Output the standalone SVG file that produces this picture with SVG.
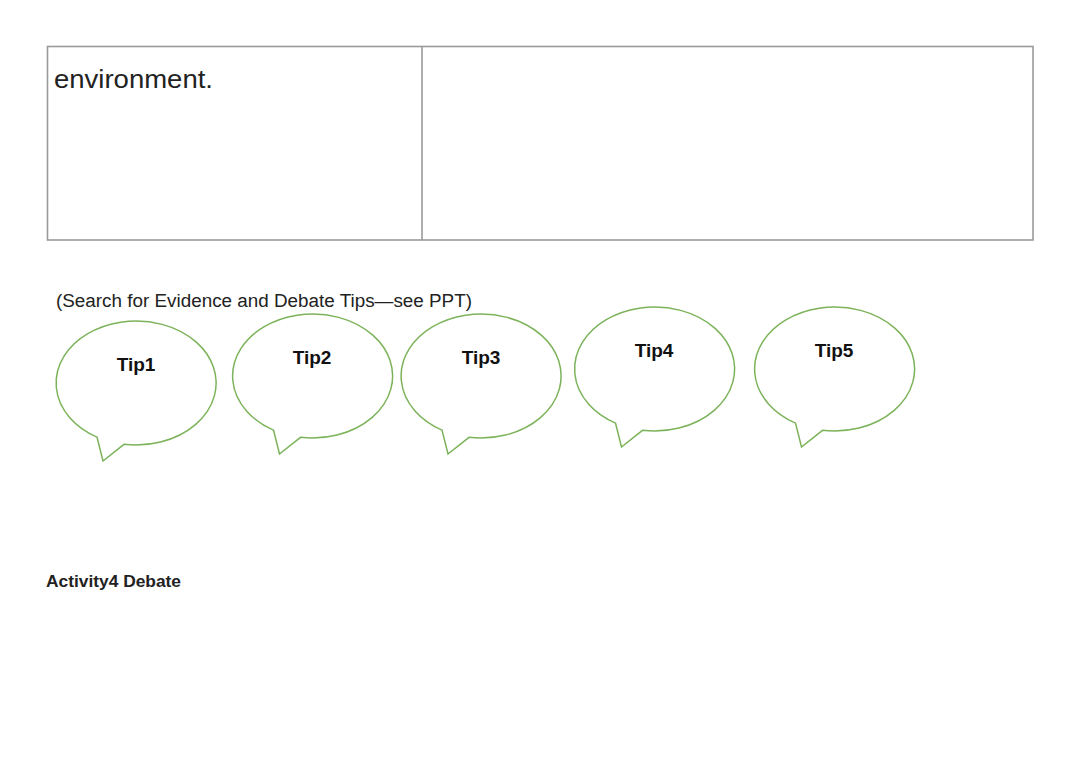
<svg xmlns="http://www.w3.org/2000/svg" xmlns:xlink="http://www.w3.org/1999/xlink" width="1080" height="764" viewBox="0 0 1080 764">
<style>
.tbl{fill:none;stroke:#9a9a9a;stroke-width:1.6}
.bub{fill:#fff;stroke:#7cb35a;stroke-width:1.5;stroke-linejoin:miter}
.tip{font-family:"Liberation Sans",Arial,sans-serif;font-weight:bold;font-size:19px;fill:#111;text-anchor:middle}
.body{font-family:"Liberation Sans",Arial,sans-serif;fill:#222}
</style>
<defs>
<path id="bubble" d="M -39,54.1 A 80 62 0 1 1 -12,61.3 L -33,78 Z"/>
</defs>
<rect width="1080" height="764" fill="#fff"/>
<g id="table">
<rect class="tbl" x="47.5" y="46.5" width="985.5" height="193.5"/>
<line class="tbl" x1="422" y1="46.5" x2="422" y2="240"/>
<text class="body" x="54" y="88" font-size="25" textLength="159" lengthAdjust="spacingAndGlyphs">environment.</text>
</g>
<text id="caption" class="body" x="56" y="307" font-size="18" textLength="416" lengthAdjust="spacingAndGlyphs">(Search for Evidence and Debate Tips—see PPT)</text>
<g id="tip1"><use xlink:href="#bubble" class="bub" transform="translate(136,383)"/><text class="tip" x="136" y="371">Tip1</text></g>
<g id="tip2"><use xlink:href="#bubble" class="bub" transform="translate(312.5,376)"/><text class="tip" x="312" y="364">Tip2</text></g>
<g id="tip3"><use xlink:href="#bubble" class="bub" transform="translate(481,376)"/><text class="tip" x="481" y="364">Tip3</text></g>
<g id="tip4"><use xlink:href="#bubble" class="bub" transform="translate(654.5,369)"/><text class="tip" x="654" y="357">Tip4</text></g>
<g id="tip5"><use xlink:href="#bubble" class="bub" transform="translate(834.5,369)"/><text class="tip" x="834" y="357">Tip5</text></g>
<g id="connectors"/>
<text id="activity" class="body" x="46" y="587" font-size="16" font-weight="bold" fill="#111" textLength="135" lengthAdjust="spacingAndGlyphs">Activity4 Debate</text>
</svg>
